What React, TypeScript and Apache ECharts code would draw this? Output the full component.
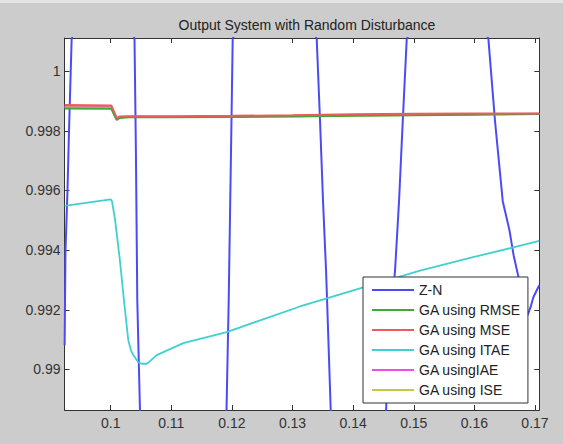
import React, { useEffect, useRef } from "react";
import * as echarts from "echarts";

const titleText = "Output System with Random Disturbance";
const xTicks = [0.1, 0.11, 0.12, 0.13, 0.14, 0.15, 0.16, 0.17];
const yTicks = [0.99, 0.992, 0.994, 0.996, 0.998, 1];
const xMin = 0.09238;
const xMax = 0.17071;
const yMin = 0.98864;
const yMax = 1.00111;

const legendNames = ["Z-N", "GA using RMSE", "GA using MSE", "GA using ITAE", "GA usingIAE", "GA using ISE"];

// Z-N response (oscillates far beyond the visible window)
const znTime = [
  0.0924, 0.09254, 0.09287, 0.09312, 0.09356, 0.0988,
  0.10393, 0.10416, 0.10439, 0.10483, 0.112,
  0.11911, 0.11947, 0.11985, 0.12013, 0.127,
  0.13399, 0.13454, 0.13503, 0.13553, 0.1357, 0.1363, 0.141,
  0.14543, 0.14609, 0.14691, 0.14757, 0.14818, 0.14884, 0.156,
  0.16231, 0.16341, 0.16468, 0.16578, 0.16647, 0.16726, 0.16804, 0.16878, 0.16936, 0.16974, 0.1707,
];
const znValue = [
  0.99081, 0.99397, 0.99598, 0.99797, 1.00108, 1.0045,
  1.00108, 0.99731, 0.99231, 0.98864, 0.985,
  0.98864, 0.99231, 0.99731, 1.00108, 1.0045,
  1.00108, 0.99831, 0.99564, 0.99331, 0.99231, 0.98864, 0.9855,
  0.98864, 0.99131, 0.99331, 0.99564, 0.99831, 1.00108, 1.004,
  1.00108, 0.99831, 0.99564, 0.99467, 0.99383, 0.99311, 0.99232, 0.99182, 0.99215, 0.99243, 0.99282,
];

// GA responses (nearly identical)
const gaTime = [0.0924, 0.1001, 0.1006, 0.101, 0.1015, 0.103, 0.11, 0.12, 0.13, 0.14, 0.15, 0.16, 0.1707];
const rmseValue = [0.99875, 0.99874, 0.99852, 0.99836, 0.99843, 0.99845, 0.99845, 0.99846, 0.99848, 0.9985, 0.99852, 0.99854, 0.99856];
const mseValue = [0.99886, 0.99885, 0.99862, 0.99842, 0.99848, 0.99849, 0.99849, 0.9985, 0.99852, 0.99855, 0.99857, 0.99858, 0.99858];
const iaeValue = [0.99881, 0.9988, 0.99858, 0.9984, 0.99846, 0.99847, 0.99847, 0.99848, 0.9985, 0.99853, 0.99855, 0.99856, 0.99857];
const iseValue = [0.99878, 0.99877, 0.99855, 0.99838, 0.99845, 0.99846, 0.99846, 0.99847, 0.99849, 0.99851, 0.99853, 0.99855, 0.99856];

// ITAE response
const itaeTime = [
  0.0924, 0.1, 0.10021, 0.10071, 0.10153, 0.10219, 0.1029, 0.10335, 0.10373, 0.10455, 0.10517, 0.10594,
  0.10649, 0.10759, 0.10979, 0.11198, 0.11914, 0.12513, 0.13124, 0.14168, 0.15104, 0.15929, 0.16644, 0.1707,
];
const itaeValue = [
  0.99548, 0.9957, 0.99564, 0.99503, 0.99364, 0.99231, 0.99098, 0.99064, 0.99048, 0.99024, 0.99019, 0.99019,
  0.99028, 0.99048, 0.99068, 0.99088, 0.99125, 0.99168, 0.99211, 0.99275, 0.99331, 0.99374, 0.99409, 0.99431,
];

const zip = (xs: number[], ys: number[]) => xs.map((x, i) => [x, ys[i]]);

const FONT = "'Liberation Sans', Arial, Helvetica, sans-serif";
const AXIS_COLOR = "#333333";
const fmt = (v: number) => String(parseFloat(Number(v).toFixed(4)));

export default function App() {
  const ref = useRef<HTMLDivElement>(null);

  useEffect(() => {
    if (!ref.current) return;
    const chart = echarts.init(ref.current, undefined, { renderer: "svg" });

    const baseX = {
      type: "value" as const,
      min: xMin,
      max: xMax,
      splitLine: { show: false },
      axisLine: { show: true, onZero: false, lineStyle: { color: AXIS_COLOR, width: 1 } },
    };
    const baseY = {
      type: "value" as const,
      min: yMin,
      max: yMax,
      splitLine: { show: false },
      axisLine: { show: true, onZero: false, lineStyle: { color: AXIS_COLOR, width: 1 } },
    };

    const line = (name: string, data: number[][], color: string, width: number) => ({
      name,
      type: "line" as const,
      data,
      color,
      showSymbol: false,
      symbol: "none",
      clip: true,
      silent: true,
      lineStyle: { color, width },
    });

    chart.setOption({
      animation: false,
      backgroundColor: "#cccccc",
      textStyle: { fontFamily: FONT },
      title: {
        text: titleText,
        left: 302,
        textAlign: "center",
        top: 13,
        textStyle: { fontFamily: FONT, fontSize: 14, fontWeight: "normal", color: "#222222" },
      },
      graphic: [
        { type: "rect", left: 0, top: 0, shape: { width: 563, height: 3 }, style: { fill: "#e4e4e4" }, silent: true },
      ],
      grid: { left: 64.5, top: 38, width: 474.8, height: 372, backgroundColor: "#ffffff", show: true, borderWidth: 0 },
      xAxis: [
        {
          ...baseX,
          position: "bottom",
          axisTick: { show: true, inside: true, length: 5, customValues: xTicks, lineStyle: { color: AXIS_COLOR } },
          axisLabel: { customValues: xTicks, formatter: fmt, color: "#333333", fontSize: 14, margin: 6, fontFamily: FONT },
        },
        {
          ...baseX,
          position: "top",
          axisTick: { show: true, inside: true, length: 5, customValues: xTicks, lineStyle: { color: AXIS_COLOR } },
          axisLabel: { show: false },
        },
      ],
      yAxis: [
        {
          ...baseY,
          position: "left",
          axisTick: { show: true, inside: true, length: 5, customValues: yTicks, lineStyle: { color: AXIS_COLOR } },
          axisLabel: { customValues: yTicks, formatter: fmt, color: "#333333", fontSize: 14, margin: 4, fontFamily: FONT },
        },
        {
          ...baseY,
          position: "right",
          axisTick: { show: true, inside: true, length: 5, customValues: yTicks, lineStyle: { color: AXIS_COLOR } },
          axisLabel: { show: false },
        },
      ],
      legend: {
        data: legendNames,
        orient: "vertical",
        left: 363,
        top: 277,
        padding: [3, 7, 3, 9],
        itemGap: 0,
        itemWidth: 42,
        itemHeight: 2,
        icon: "rect",
        backgroundColor: "#ffffff",
        borderColor: "#333333",
        borderWidth: 1,
        borderRadius: 0,
        selectedMode: false,
        textStyle: { fontFamily: FONT, fontSize: 14, color: "#222222", lineHeight: 20, padding: 0 },
      },
      series: [
        line(legendNames[0], zip(znTime, znValue), "#4b4bf5", 2),
        line(legendNames[4], zip(gaTime, iaeValue), "#e850e8", 2),
        line(legendNames[5], zip(gaTime, iseValue), "#c8c840", 2),
        line(legendNames[1], zip(gaTime, rmseValue), "#3aaa3a", 2),
        line(legendNames[2], zip(gaTime, mseValue), "#f05a5a", 2),
        line(legendNames[3], zip(itaeTime, itaeValue), "#40d0d0", 1.8),
      ],
    });

    return () => chart.dispose();
  }, []);

  return (
    <div
      ref={ref}
      style={{ position: "absolute", left: 0, top: 0, width: 563, height: 444 }}
    />
  );
}
